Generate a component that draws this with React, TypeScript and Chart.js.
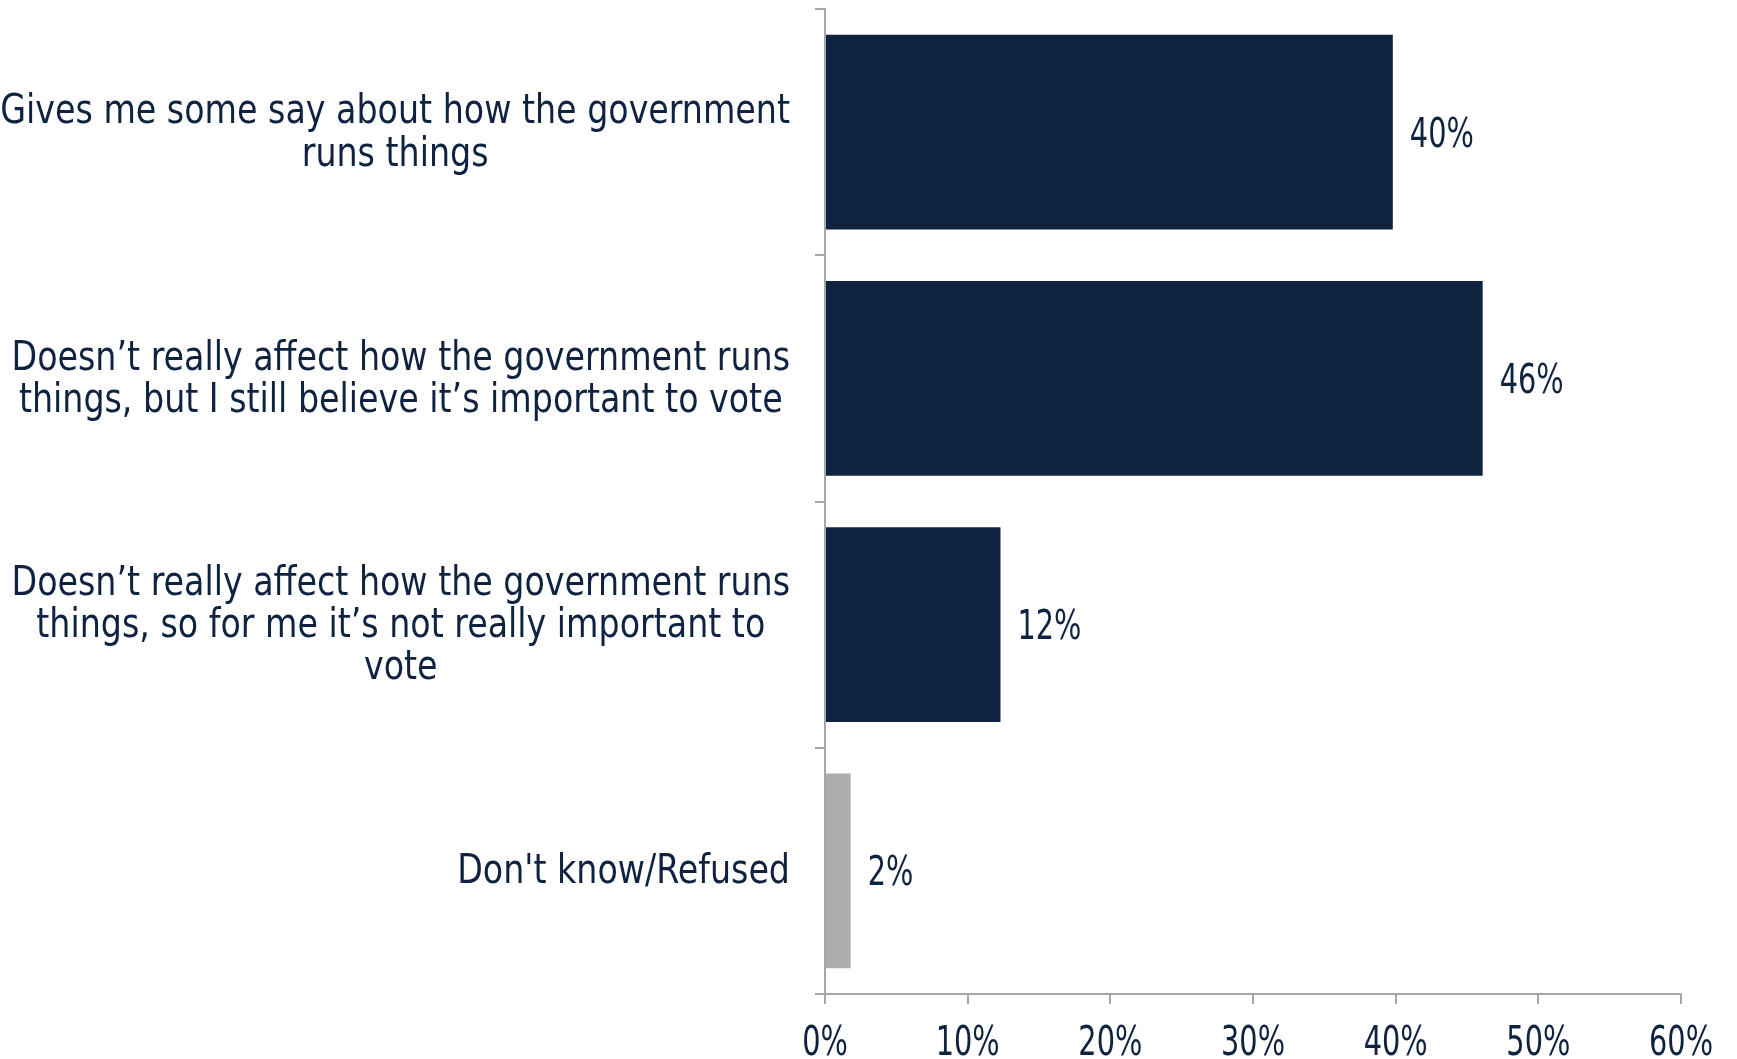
import React, { useEffect, useRef } from "react";
import { Chart, registerables } from "chart.js";

Chart.register(...registerables);

const categories: string[][] = [
  ["Gives me some say about how the government", "runs things"],
  ["Doesn\u2019t really affect how the government runs", "things, but I still believe it\u2019s important to vote"],
  ["Doesn\u2019t really affect how the government runs", "things, so for me it\u2019s not really important to", "vote"],
  ["Don't know/Refused"],
];
const values: number[] = [39.8, 46.1, 12.3, 1.8];
const valueLabels: string[] = ["40%", "46%", "12%", "2%"];
const barColors: string[] = ["#0F2341", "#0F2341", "#0F2341", "#ADADAD"];
const xTicks: number[] = [0, 10, 20, 30, 40, 50, 60];
const xTickLabels: string[] = ["0%", "10%", "20%", "30%", "40%", "50%", "60%"];

const FONT_FAMILY = "'DejaVu Sans Condensed', 'DejaVu Sans', sans-serif";
const FONT_SIZE = 40;
const TEXT_COLOR = "#0F2341";
const AXIS_COLOR = "#A6A6A6";
const LABEL_SX = 0.925;
const NUM_SX = 0.8;

function drawText(ctx: CanvasRenderingContext2D, text: string, x: number, y: number, sx: number, align: CanvasTextAlign) {
  ctx.save();
  ctx.translate(x, y);
  ctx.scale(sx, 1);
  ctx.textAlign = align;
  ctx.fillText(text, 0, 0);
  ctx.restore();
}

const labelPlugin = {
  id: "customLabels",
  afterDraw(chart: any) {
    const ctx: CanvasRenderingContext2D = chart.ctx;
    const y = chart.scales.y;
    const x = chart.scales.x;
    const meta = chart.getDatasetMeta(0);
    ctx.save();
    ctx.font = `${FONT_SIZE}px ${FONT_FAMILY}`;
    ctx.fillStyle = TEXT_COLOR;
    ctx.textBaseline = "middle";
    const lineH = 42.3;
    const rightEdge = 790;
    categories.forEach((lines, i) => {
      const cy = y.getPixelForValue(i) + 2;
      const widths = lines.map((l) => ctx.measureText(l).width * LABEL_SX);
      const blockW = Math.max(...widths);
      const cx = rightEdge - blockW / 2;
      const startY = cy - ((lines.length - 1) * lineH) / 2;
      lines.forEach((l, j) => drawText(ctx, l, cx, startY + j * lineH, LABEL_SX, "center"));
    });
    meta.data.forEach((bar: any, i: number) => {
      drawText(ctx, valueLabels[i], bar.x + 17, bar.y + 4, NUM_SX, "left");
    });
    xTicks.forEach((v, i) => {
      drawText(ctx, xTickLabels[i], x.getPixelForValue(v), 1045, NUM_SX, "center");
    });
    ctx.restore();
  },
};

export default function App() {
  const ref = useRef<HTMLCanvasElement>(null);
  useEffect(() => {
    const chart = new Chart(ref.current!, {
      type: "bar",
      data: {
        labels: categories.map((c) => c.join(" ")),
        datasets: [
          {
            data: values,
            backgroundColor: barColors,
            barPercentage: 0.79,
            categoryPercentage: 1,
          },
        ],
      },
      options: {
        indexAxis: "y",
        animation: false,
        responsive: false,
        devicePixelRatio: 1,
        layout: { padding: { top: 9, right: 56, left: 0, bottom: 0 } },
        plugins: { legend: { display: false }, tooltip: { enabled: false } },
        scales: {
          x: {
            min: 0,
            max: 60,
            afterFit: (s: any) => {
              s.height = 65;
            },
            afterBuildTicks: (s: any) => {
              s.ticks = xTicks.map((v) => ({ value: v }));
            },
            border: { display: true, color: AXIS_COLOR, width: 2 },
            grid: { drawOnChartArea: false, drawTicks: true, tickLength: 10, color: AXIS_COLOR, lineWidth: 2 },
            ticks: { display: false },
          },
          y: {
            afterFit: (s: any) => {
              s.width = 825;
            },
            border: { display: true, color: AXIS_COLOR, width: 2 },
            grid: { drawOnChartArea: false, drawTicks: true, tickLength: 10, color: AXIS_COLOR, lineWidth: 2, offset: true },
            ticks: { display: false },
          },
        },
      },
      plugins: [labelPlugin],
    });
    return () => chart.destroy();
  }, []);
  return (
    <div style={{ position: "fixed", left: 0, top: 0, width: 1737, height: 1059, background: "#fff" }}>
      <canvas ref={ref} width={1737} height={1059} style={{ width: 1737, height: 1059, display: "block" }} />
    </div>
  );
}
